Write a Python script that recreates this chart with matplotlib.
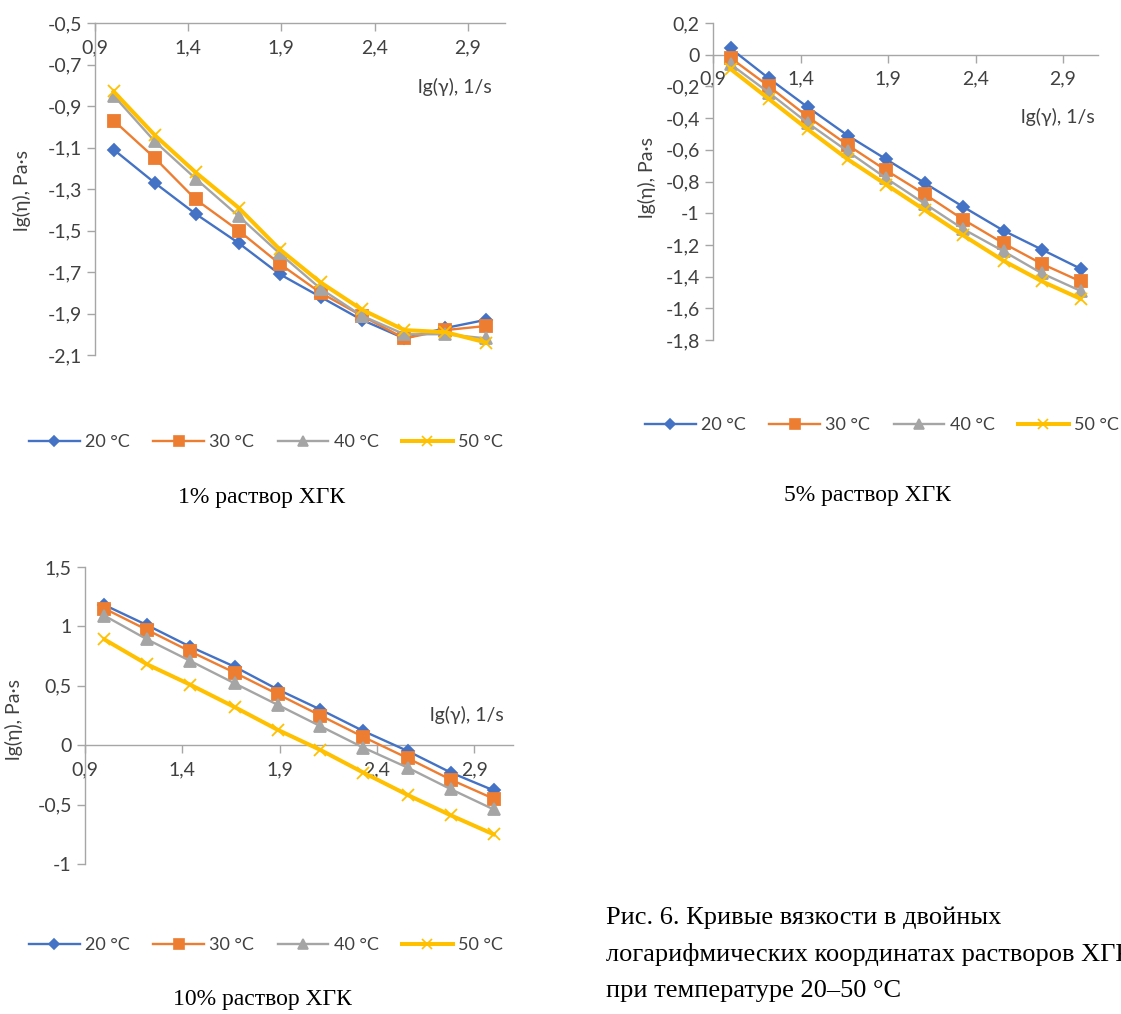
import matplotlib.pyplot as plt
from matplotlib.lines import Line2D

plt.rcParams['font.family'] = ['Lato', 'DejaVu Sans']

W, H = 1121, 1014

# lg of shear rate, 1/s
lg_rate = [1.0, 1.22, 1.44, 1.67, 1.89, 2.11, 2.33, 2.56, 2.78, 3.0]
temps = ['20 °C', '30 °C', '40 °C', '50 °C']
x_ticks = [0.9, 1.4, 1.9, 2.4, 2.9]

# 1% solution
p1_20 = [-1.11, -1.27, -1.42, -1.56, -1.71, -1.82, -1.93, -2.02, -1.97, -1.93]
p1_30 = [-0.97, -1.15, -1.35, -1.50, -1.66, -1.80, -1.91, -2.02, -1.98, -1.96]
p1_40 = [-0.85, -1.07, -1.25, -1.43, -1.61, -1.78, -1.91, -2.00, -2.00, -2.02]
p1_50 = [-0.83, -1.04, -1.22, -1.39, -1.59, -1.75, -1.88, -1.98, -1.99, -2.04]

# 5% solution
p5_20 = [0.04, -0.15, -0.33, -0.51, -0.66, -0.81, -0.96, -1.11, -1.23, -1.35]
p5_30 = [-0.02, -0.20, -0.39, -0.57, -0.73, -0.88, -1.04, -1.19, -1.32, -1.43]
p5_40 = [-0.06, -0.24, -0.43, -0.61, -0.78, -0.94, -1.10, -1.24, -1.38, -1.49]
p5_50 = [-0.09, -0.28, -0.47, -0.66, -0.82, -0.98, -1.14, -1.30, -1.43, -1.54]

# 10% solution
p10_20 = [1.18, 1.01, 0.83, 0.66, 0.47, 0.30, 0.12, -0.05, -0.23, -0.38]
p10_30 = [1.15, 0.97, 0.79, 0.61, 0.43, 0.25, 0.07, -0.11, -0.29, -0.45]
p10_40 = [1.09, 0.89, 0.71, 0.52, 0.34, 0.16, -0.02, -0.19, -0.37, -0.54]
p10_50 = [0.89, 0.68, 0.51, 0.32, 0.13, -0.04, -0.23, -0.42, -0.59, -0.75]

colors = ['#4472C4', '#ED7D31', '#A5A5A5', '#FFC000']
markers = ['D', 's', '^', 'x']
msizes = [6, 8.5, 9, 9]
lwidths = [1.7, 1.7, 1.7, 2.9]
axis_grey = '#a6a6a6'
txt = '#404040'


def px(x0, y0, x1, y1):
    return [x0 / W, 1 - y1 / H, (x1 - x0) / W, (y1 - y0) / H]


def comma(v, pos=None):
    v = round(v, 2)
    if abs(v) < 1e-9:
        return '0'
    return ('%g' % v).replace('.', ',')


def panel(rect, series, ylim, yticks, cross, xlab_xy, ylab_xy, leg_xy):
    ax = fig.add_axes(px(*rect))
    for i, ys in enumerate(series):
        ax.plot(lg_rate, ys, color=colors[i], marker=markers[i], ms=msizes[i],
                lw=lwidths[i], mew=1.3, zorder=3 + i, clip_on=False)
    ax.set_xlim(0.9, 3.1)
    ax.set_ylim(*ylim)
    ax.set_xticks(x_ticks)
    ax.set_yticks(yticks)
    ax.xaxis.set_major_formatter(comma)
    ax.yaxis.set_major_formatter(comma)
    for s in ['top', 'right']:
        ax.spines[s].set_visible(False)
    ax.spines['bottom'].set_position(('data', cross))
    for s in ['bottom', 'left']:
        ax.spines[s].set_color(axis_grey)
        ax.spines[s].set_linewidth(1.0)
    ax.tick_params(colors=axis_grey, labelcolor=txt, labelsize=14,
                   length=5.5, width=1.0)
    ax.tick_params(axis='x', pad=6)
    ax.tick_params(axis='y', pad=4)
    ax.patch.set_alpha(0)
    fig.text(xlab_xy[0] / W, 1 - xlab_xy[1] / H, 'lg(γ), 1/s', ha='center',
             va='center', fontsize=14, color=txt)
    fig.text(ylab_xy[0] / W, 1 - ylab_xy[1] / H, 'lg(η), Pa·s', ha='center',
             va='center', fontsize=14, color=txt, rotation=90)
    handles = [Line2D([], [], color=colors[i], marker=markers[i], ms=msizes[i] * 0.85,
                      lw=lwidths[i], mew=1.2) for i in range(4)]
    fig.legend(handles, temps, loc='center', ncol=4, frameon=False,
               bbox_to_anchor=(leg_xy[0] / W, 1 - leg_xy[1] / H),
               fontsize=13, handlelength=2.8, handletextpad=0.3,
               columnspacing=1.3, numpoints=1, labelcolor=txt)
    return ax


fig = plt.figure(figsize=(W / 100, H / 100), dpi=100)

panel((95, 23, 505, 355), [p1_20, p1_30, p1_40, p1_50], (-2.1, -0.5),
      [-2.1, -1.9, -1.7, -1.5, -1.3, -1.1, -0.9, -0.7, -0.5], -0.5,
      (455, 87), (22, 190), (266, 442))
panel((713, 23, 1098, 340), [p5_20, p5_30, p5_40, p5_50], (-1.8, 0.2),
      [-1.8, -1.6, -1.4, -1.2, -1.0, -0.8, -0.6, -0.4, -0.2, 0.0, 0.2], 0.0,
      (1058, 117), (647, 177), (882, 425))
panel((85, 567, 513, 864), [p10_20, p10_30, p10_40, p10_50], (-1.0, 1.5),
      [-1.0, -0.5, 0.0, 0.5, 1.0, 1.5], 0.0,
      (467, 715), (14, 719), (266, 945))

serif = ['Liberation Serif', 'DejaVu Serif']
fig.text(262 / W, 1 - 497 / H, '1% раствор ХГК', ha='center', va='center',
         fontsize=17, family=serif)
fig.text(868 / W, 1 - 496 / H, '5% раствор ХГК', ha='center', va='center',
         fontsize=17, family=serif)
fig.text(262 / W, 1 - 1000 / H, '10% раствор ХГК', ha='center', va='center',
         fontsize=17, family=serif)

caption = ['Рис. 6. Кривые вязкости в двойных',
           'логарифмических координатах растворов ХГК',
           'при температуре 20–50 °С']
for k, line in enumerate(caption):
    fig.text(606 / W, 1 - (918 + 36.5 * k) / H, line, ha='left', va='center',
             fontsize=19, family=serif)

fig.savefig('out.png', dpi=100)
